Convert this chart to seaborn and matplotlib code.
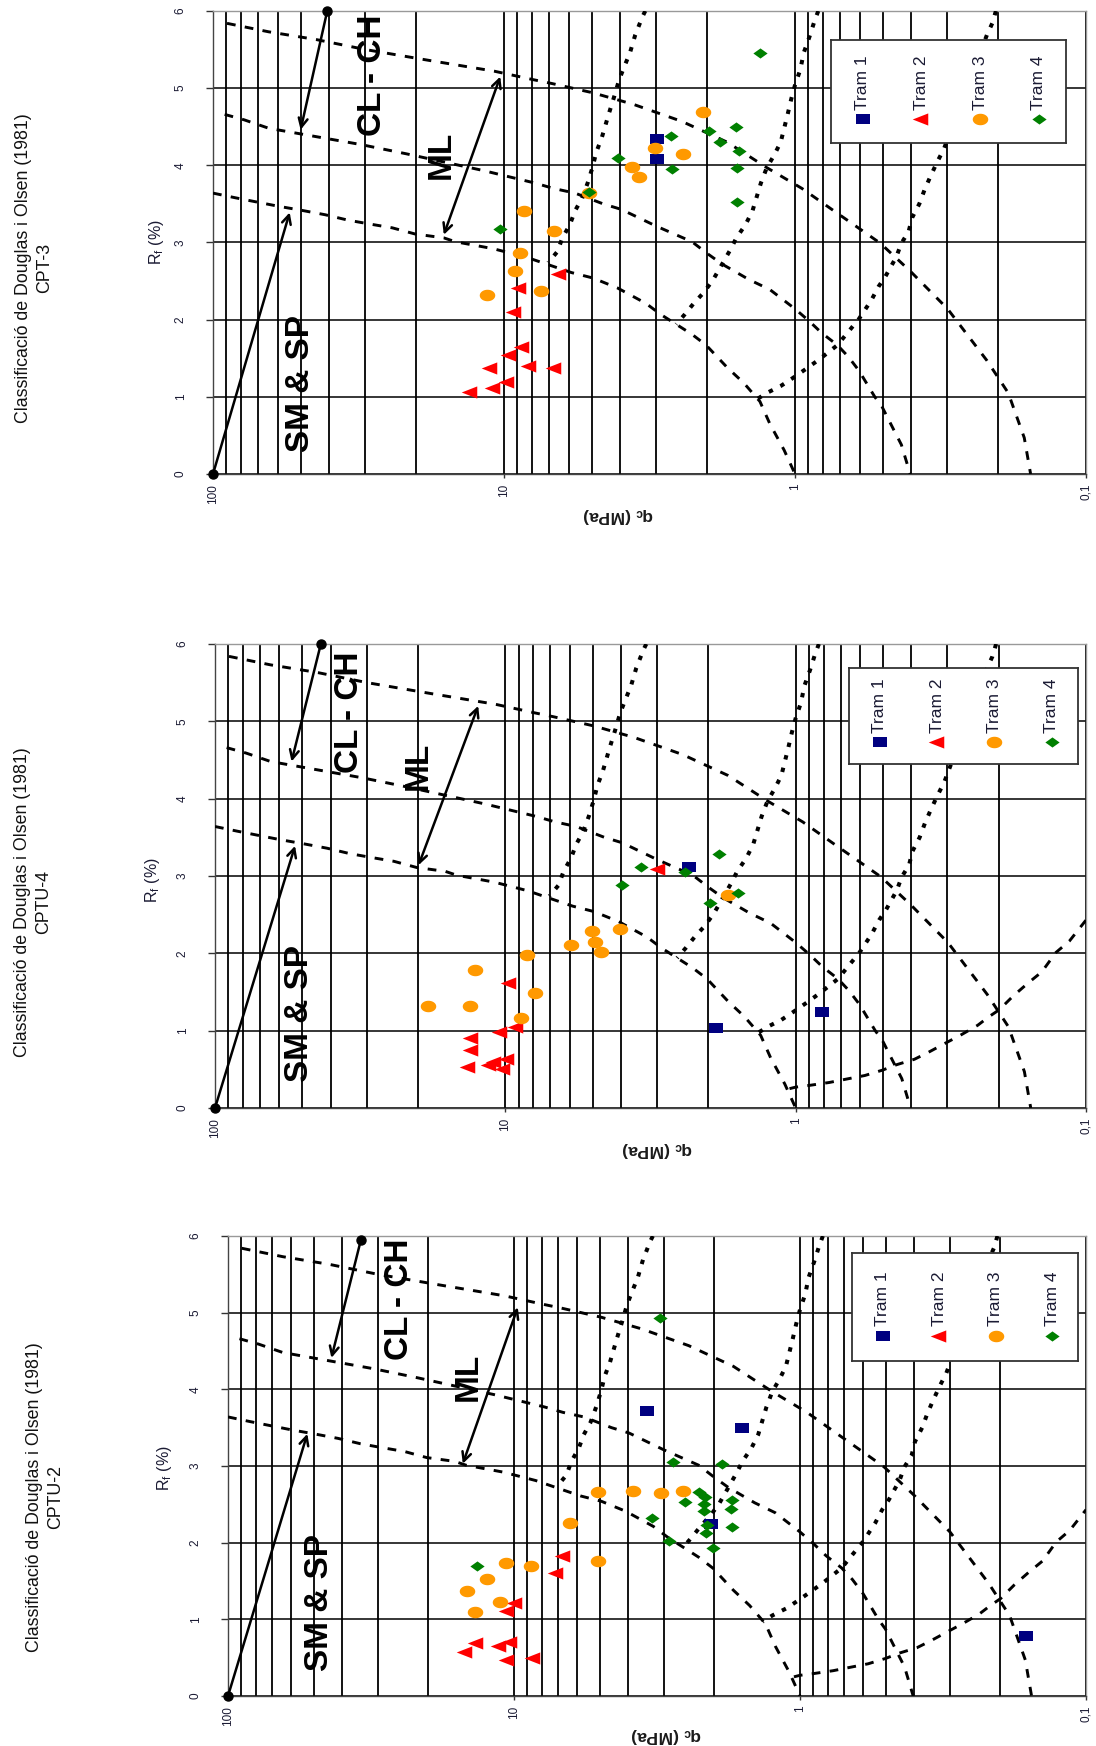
import numpy as np
import pandas as pd
import matplotlib
matplotlib.use('Agg')
import matplotlib.pyplot as plt
import seaborn as sns
from matplotlib.path import Path
from matplotlib.ticker import NullFormatter

sns.set_style('white')
NARROW = ['Liberation Sans Narrow', 'Liberation Sans', 'DejaVu Sans']
REG = ['Liberation Sans', 'DejaVu Sans']
plt.rcParams['font.family'] = NARROW
plt.rcParams['mathtext.default'] = 'regular'

W, H = 1096, 1746

# ---------------- data ----------------
TITLE = "Classificació de Douglas i Olsen (1981)"
PANEL_NAMES = ["CPT-3", "CPTU-4", "CPTU-2"]
SERIES = ["Tram 1", "Tram 2", "Tram 3", "Tram 4"]
X_TICKS = [100, 10, 1, 0.1]
X_TICKLABELS = ["100", "10", "1", "0,1"]
Y_TICKS = [0, 1, 2, 3, 4, 5, 6]

# CPT-3
CPT3_T1_QC = [2.97, 2.97]
CPT3_T1_RF = [4.34, 4.08]
CPT3_T2_QC = [13.1, 10.9, 9.77, 11.2, 9.64, 8.69, 8.22, 9.25, 8.91, 6.75, 6.47]
CPT3_T2_RF = [1.06, 1.12, 1.19, 1.37, 1.54, 1.65, 1.40, 2.10, 2.41, 1.37, 2.59]
CPT3_T3_QC = [11.4, 9.2, 8.82, 8.55, 7.45, 6.75, 5.1, 3.62, 3.44, 3.03, 2.42, 2.07]
CPT3_T3_RF = [2.32, 2.63, 2.87, 3.41, 2.37, 3.15, 3.64, 3.98, 3.85, 4.22, 4.15, 4.69]
CPT3_T4_QC = [10.35, 5.1, 4.07, 2.66, 2.64, 1.97, 1.81, 1.60, 1.56, 1.58, 1.58, 1.32]
CPT3_T4_RF = [3.18, 3.66, 4.09, 4.38, 3.95, 4.45, 4.30, 4.50, 4.18, 3.97, 3.52, 5.45]

# CPTU-4
CPTU4_T1_QC = [2.33, 1.88, 0.81]
CPTU4_T1_RF = [3.11, 1.03, 1.24]
CPTU4_T2_QC = [13.1, 13.1, 13.4, 11.4, 10.9, 10.2, 9.9, 10.4, 9.73, 9.2, 2.99]
CPTU4_T2_RF = [0.90, 0.745, 0.535, 0.56, 0.60, 0.50, 0.63, 0.98, 1.61, 1.05, 3.09]
CPTU4_T3_QC = [18.5, 13.2, 12.7, 8.45, 7.93, 8.8, 5.92, 5.03, 4.93, 4.69, 4.04, 1.71]
CPTU4_T3_RF = [1.32, 1.32, 1.79, 1.98, 1.49, 1.16, 2.11, 2.29, 2.15, 2.02, 2.32, 2.75]
CPTU4_T4_QC = [3.42, 3.98, 2.41, 1.84, 1.98, 1.58]
CPTU4_T4_RF = [3.12, 2.89, 3.05, 3.29, 2.65, 2.78]

# CPTU-2
CPTU2_T1_QC = [3.44, 1.59, 2.05, 0.162]
CPTU2_T1_RF = [3.72, 3.50, 2.24, 0.78]
CPTU2_T2_QC = [14.8, 13.6, 11.3, 10.35, 10.6, 8.59, 10.6, 9.9, 6.74, 7.13]
CPTU2_T2_RF = [0.58, 0.69, 0.65, 0.71, 0.47, 0.49, 1.11, 1.21, 1.82, 1.60]
CPTU2_T3_QC = [14.6, 12.4, 13.7, 11.2, 10.7, 8.71, 6.37, 5.08, 5.08, 3.85, 3.06, 2.56]
CPTU2_T3_RF = [1.37, 1.52, 1.10, 1.23, 1.74, 1.70, 2.26, 1.76, 2.66, 2.67, 2.65, 2.67]
CPTU2_T4_QC = [13.5, 3.09, 2.78, 1.87, 3.29, 2.86, 2.53, 2.26, 2.15, 2.17, 2.16, 2.12, 2.13, 2.01, 1.73, 1.74, 1.73]
CPTU2_T4_RF = [1.70, 4.93, 3.05, 3.03, 2.32, 2.02, 2.53, 2.66, 2.60, 2.50, 2.41, 2.23, 2.13, 1.93, 2.56, 2.44, 2.20]

# classification chart boundaries (Douglas & Olsen 1981)
CURVE_A_QC = [89.5, 64.3, 44.2, 29.9, 18.1, 10.8, 7.93, 6.84, 4.95, 3.59, 2.45, 1.71, 1.25, 0.946,
              0.735, 0.570, 0.509, 0.402, 0.299, 0.219, 0.185, 0.163, 0.155]
CURVE_A_RF = [5.84, 5.73, 5.63, 5.50, 5.36, 5.22, 5.11, 5.06, 4.94, 4.79, 4.57, 4.30, 3.97, 3.70,
              3.41, 3.12, 2.99, 2.63, 2.14, 1.47, 1.05, 0.47, 0.0]
CURVE_B_QC = [91.2, 78.2, 64.3, 31.1, 21.7, 11.7, 7.82, 6.75, 5.70, 4.56, 3.96, 2.99, 2.26, 1.99,
              1.78, 1.44, 1.22, 1.0, 0.893, 0.811, 0.715, 0.656, 0.603, 0.532, 0.502, 0.456, 0.431, 0.402]
CURVE_B_RF = [4.66, 4.59, 4.48, 4.27, 4.15, 3.93, 3.77, 3.70, 3.64, 3.50, 3.43, 3.21, 3.01, 2.85,
              2.72, 2.52, 2.39, 2.14, 1.98, 1.83, 1.67, 1.52, 1.34, 1.00, 0.87, 0.56, 0.38, 0.0]
CURVE_C_QC = [100, 83.9, 71.9, 59.7, 50.1, 41.2, 34.4, 29.0, 24.2, 20.2, 16.1, 14.7, 10.9, 8.39,
              7.14, 5.86, 4.95, 4.07, 3.25, 2.90, 2.56, 2.26, 2.02, 1.71, 1.50, 1.32, 1.22, 1.09, 1.0]
CURVE_C_RF = [3.64, 3.58, 3.53, 3.47, 3.42, 3.36, 3.29, 3.24, 3.19, 3.11, 3.06, 3.01, 2.92, 2.81,
              2.72, 2.61, 2.54, 2.41, 2.21, 2.07, 1.94, 1.81, 1.67, 1.38, 1.18, 0.94, 0.65, 0.31, 0.0]
CURVE_D_QC = [3.27, 3.34, 3.54, 3.69, 3.85, 4.02, 4.19, 4.37, 4.62, 4.82, 4.95, 5.16, 5.40, 5.70,
              5.94, 6.30, 6.56, 7.05]
CURVE_D_RF = [6.0, 5.93, 5.69, 5.46, 5.29, 5.11, 4.88, 4.66, 4.35, 4.17, 3.99, 3.77, 3.57, 3.41,
              3.23, 3.06, 2.88, 2.74]
CURVE_E_QC = [0.832, 0.857, 0.893, 0.933, 0.959, 1.0, 1.03, 1.06, 1.12, 1.18, 1.25, 1.31, 1.40,
              1.48, 1.59, 1.66, 1.78, 1.91, 2.05, 2.23, 2.39, 2.56]
CURVE_E_RF = [6.0, 5.87, 5.66, 5.46, 5.24, 5.04, 4.86, 4.66, 4.30, 4.13, 3.97, 3.77, 3.41,
              3.23, 3.06, 2.92, 2.72, 2.52, 2.36, 2.21, 2.07, 1.94]
CURVE_F_QC = [0.204, 0.210, 0.219, 0.308, 0.325, 0.344, 0.359, 0.374, 0.396, 0.407, 0.431, 0.449,
              0.489, 0.516, 0.547, 0.603, 0.647, 0.715, 0.822, 0.918, 1.03, 1.12, 1.25, 1.35]
CURVE_F_RF = [6.0, 5.84, 5.69, 4.21, 4.04, 3.84, 3.68, 3.50, 3.32, 3.14, 2.99, 2.81,
              2.56, 2.43, 2.25, 2.01, 1.87, 1.67, 1.49, 1.36, 1.23, 1.14, 1.05, 0.97]
CURVE_G_QC = [1.05, 1.0, 0.906, 0.766, 0.656, 0.578, 0.502, 0.449, 0.390, 0.349, 0.308, 0.271,
              0.236, 0.216, 0.199, 0.178, 0.159, 0.142, 0.127, 0.114, 0.1]
CURVE_G_RF = [0.25, 0.27, 0.29, 0.33, 0.38, 0.42, 0.49, 0.56, 0.63, 0.72, 0.83, 0.94,
              1.07, 1.18, 1.27, 1.45, 1.61, 1.76, 2.01, 2.16, 2.43]

ZONE_LABELS = ["SM & SP", "CL - CH", "ML"]
# label centres (qc, Rf) per panel
ZONE_POS = [
    [(50, 1.17), (28.3, 5.17), (16.4, 4.13)],
    [(51, 1.22), (34.5, 5.12), (19.9, 4.43)],
    [(47.7, 1.22), (25.2, 5.17), (14.4, 4.16)],
]
# arrows: (start, tip) per panel for SM, CL, ML(double)
ARROWS = [
    [((100, 0), (54.5, 3.39)), ((40.5, 6.0), (50, 4.46)), ((16.1, 3.1), (10.3, 5.15))],
    [((100, 0), (53, 3.39)), ((43.2, 6.0), (54.5, 4.48)), ((19.9, 3.14), (12.4, 5.2))],
    [((100, 0), (52.8, 3.42)), ((34.3, 5.95), (43.5, 4.41)), ((15.1, 3.03), (9.7, 5.07))],
]

PANEL_DATA = [
    [(CPT3_T1_QC, CPT3_T1_RF), (CPT3_T2_QC, CPT3_T2_RF), (CPT3_T3_QC, CPT3_T3_RF), (CPT3_T4_QC, CPT3_T4_RF)],
    [(CPTU4_T1_QC, CPTU4_T1_RF), (CPTU4_T2_QC, CPTU4_T2_RF), (CPTU4_T3_QC, CPTU4_T3_RF), (CPTU4_T4_QC, CPTU4_T4_RF)],
    [(CPTU2_T1_QC, CPTU2_T1_RF), (CPTU2_T2_QC, CPTU2_T2_RF), (CPTU2_T3_QC, CPTU2_T3_RF), (CPTU2_T4_QC, CPTU2_T4_RF)],
]

# ---------------- layout (pixels) ----------------
AX_BOX = [(213, 11, 1086, 474), (215, 644, 1086, 1108), (228, 1236, 1086, 1696)]
LEG_BOX = [(831, 40, 1066, 143), (849, 668, 1078, 764), (852, 1253, 1078, 1361)]
TITLE_POS = [(34, 268), (33, 902), (45, 1497)]
RF_LABEL_POS = [(157, 242), (153, 880), (165, 1468)]
QC_LABEL_POS = [(618, 516), (657, 1150), (666, 1735)]

COLORS = ["#000080", "#FF0000", "#FF9900", "#008000"]

SQ = Path([(-1.35, -1), (1.35, -1), (1.35, 1), (-1.35, 1), (-1.35, -1)], closed=True)
_t = np.linspace(0, 2 * np.pi, 41)
ELL = Path(np.column_stack([1.35 * np.cos(_t), np.sin(_t)]), closed=True)
TRI = Path([(-1.3, 0), (1.0, -0.9), (1.0, 0.9), (-1.3, 0)], closed=True)
DIA = Path([(-1.4, 0), (0, -1), (1.4, 0), (0, 1), (-1.4, 0)], closed=True)
MARKERS = [SQ, TRI, ELL, DIA]
SIZES = [105, 160, 125, 105]

fig = plt.figure(figsize=(W / 100, H / 100), dpi=100)
fig.patch.set_facecolor('white')


def fx(px):
    return px / W


def fy(py):
    return 1 - py / H


minor_ticks = [m * d for d in (10, 1, 0.1) for m in range(2, 10)]

for p in range(3):
    x0, y0, x1, y1 = AX_BOX[p]
    ax = fig.add_axes([fx(x0), fy(y1), (x1 - x0) / W, (y1 - y0) / H])
    ax.set_xscale('log')
    ax.set_xlim(100, 0.1)
    ax.set_ylim(0, 6)
    ax.set_xticks(X_TICKS)
    ax.set_xticklabels(X_TICKLABELS)
    ax.set_xticks(minor_ticks, minor=True)
    ax.xaxis.set_minor_formatter(NullFormatter())
    ax.set_yticks(Y_TICKS)
    ax.set_yticklabels([str(v) for v in Y_TICKS])
    ax.grid(True, which='both', axis='x', color='black', lw=1.3)
    ax.grid(True, which='major', axis='y', color='black', lw=1.1)
    ax.set_axisbelow(True)
    ax.tick_params(axis='x', which='major', bottom=True, length=3, width=1, color='#333',
                   pad=4, labelsize=8.5, labelcolor='#1a1a33', labelrotation=90)
    ax.tick_params(axis='y', which='major', left=True, length=5, width=1, color='#333',
                   pad=14, labelsize=8.5, labelcolor='#1a1a33', labelrotation=90)
    ax.tick_params(which='minor', length=0)
    for lbl in ax.get_yticklabels():
        lbl.set_va('center')
    for name, sp in ax.spines.items():
        sp.set_linewidth(1.0)
        sp.set_color('#444' if name in ('left', 'bottom') else '#999')

    # boundaries
    dashed = dict(color='black', lw=2.1, linestyle=(0, (3, 3.2)), dash_capstyle='butt', zorder=3)
    dotted = dict(color='black', lw=2.9, linestyle=(0, (1.1, 2.1)), dash_capstyle='butt', zorder=3)
    ax.plot(CURVE_A_QC, CURVE_A_RF, **dashed)
    ax.plot(CURVE_B_QC, CURVE_B_RF, **dashed)
    ax.plot(CURVE_C_QC, CURVE_C_RF, **dashed)
    if p > 0:
        ax.plot(CURVE_G_QC, CURVE_G_RF, **dashed)
    ax.plot(CURVE_D_QC, CURVE_D_RF, **dotted)
    ax.plot(CURVE_E_QC, CURVE_E_RF, **dotted)
    ax.plot(CURVE_F_QC, CURVE_F_RF, **dotted)

    # arrows
    (s1, t1), (s2, t2), (s3, t3) = ARROWS[p]
    ap = dict(arrowstyle='->', color='black', lw=1.8, mutation_scale=16, shrinkA=0, shrinkB=0)
    ax.annotate('', xy=t1, xytext=s1, arrowprops=ap, zorder=4)
    ax.annotate('', xy=t2, xytext=s2, arrowprops=ap, zorder=4)
    ap2 = dict(ap, arrowstyle='<->')
    ax.annotate('', xy=t3, xytext=s3, arrowprops=ap2, zorder=4)
    ax.plot([s1[0], s2[0]], [s1[1], s2[1]], 'o', color='black', ms=6.5, clip_on=False, zorder=5)

    # zone labels
    for lab, (qx, ry) in zip(ZONE_LABELS, ZONE_POS[p]):
        ax.text(qx, ry, lab, rotation=90, ha='center', va='center', fontsize=24,
                fontweight='bold', family=NARROW, color='black', zorder=4)

    # data
    for i, (qc, rf) in enumerate(PANEL_DATA[p]):
        df = pd.DataFrame({'qc': qc, 'rf': rf})
        sns.scatterplot(data=df, x='qc', y='rf', ax=ax, marker=MARKERS[i], s=SIZES[i],
                        color=COLORS[i], linewidth=0, zorder=6, legend=False)
    ax.set_xlabel('')
    ax.set_ylabel('')

    # legend (manual, rotated entries)
    lx0, ly0, lx1, ly1 = LEG_BOX[p]
    lax = fig.add_axes([fx(lx0), fy(ly1), (lx1 - lx0) / W, (ly1 - ly0) / H])
    lax.set_xlim(0, 1)
    lax.set_ylim(0, 1)
    lax.set_xticks([])
    lax.set_yticks([])
    lax.set_facecolor('white')
    for sp in lax.spines.values():
        sp.set_color('#333')
        sp.set_linewidth(1.3)
    for i, name in enumerate(SERIES):
        xc = 0.135 + 0.25 * i
        lax.scatter([xc], [0.23], marker=MARKERS[i], s=SIZES[i], color=COLORS[i], linewidths=0)
        lax.text(xc, 0.32, name, rotation=90, ha='center', va='bottom', fontsize=12.5,
                 color='#1a1a33', family=NARROW)

    # texts
    tx, ty = TITLE_POS[p]
    fig.text(fx(tx), fy(ty), TITLE + "\n" + PANEL_NAMES[p], rotation=90, ha='center', va='center',
             multialignment='center', fontsize=12.8, family=NARROW, color='#111', linespacing=1.3)
    rx, ry = RF_LABEL_POS[p]
    fig.text(fx(rx), fy(ry), 'R$_f$ (%)', rotation=90, ha='center', va='center', fontsize=11.5,
             family=NARROW, color='#1a1a33')
    qx, qy = QC_LABEL_POS[p]
    fig.text(fx(qx), fy(qy), 'q$_c$ (MPa)', rotation=180, ha='center', va='center', fontsize=12.5,
             fontweight='bold', family=REG, color='#1a1a1a')

fig.savefig('out.png', dpi=100, facecolor='white')
